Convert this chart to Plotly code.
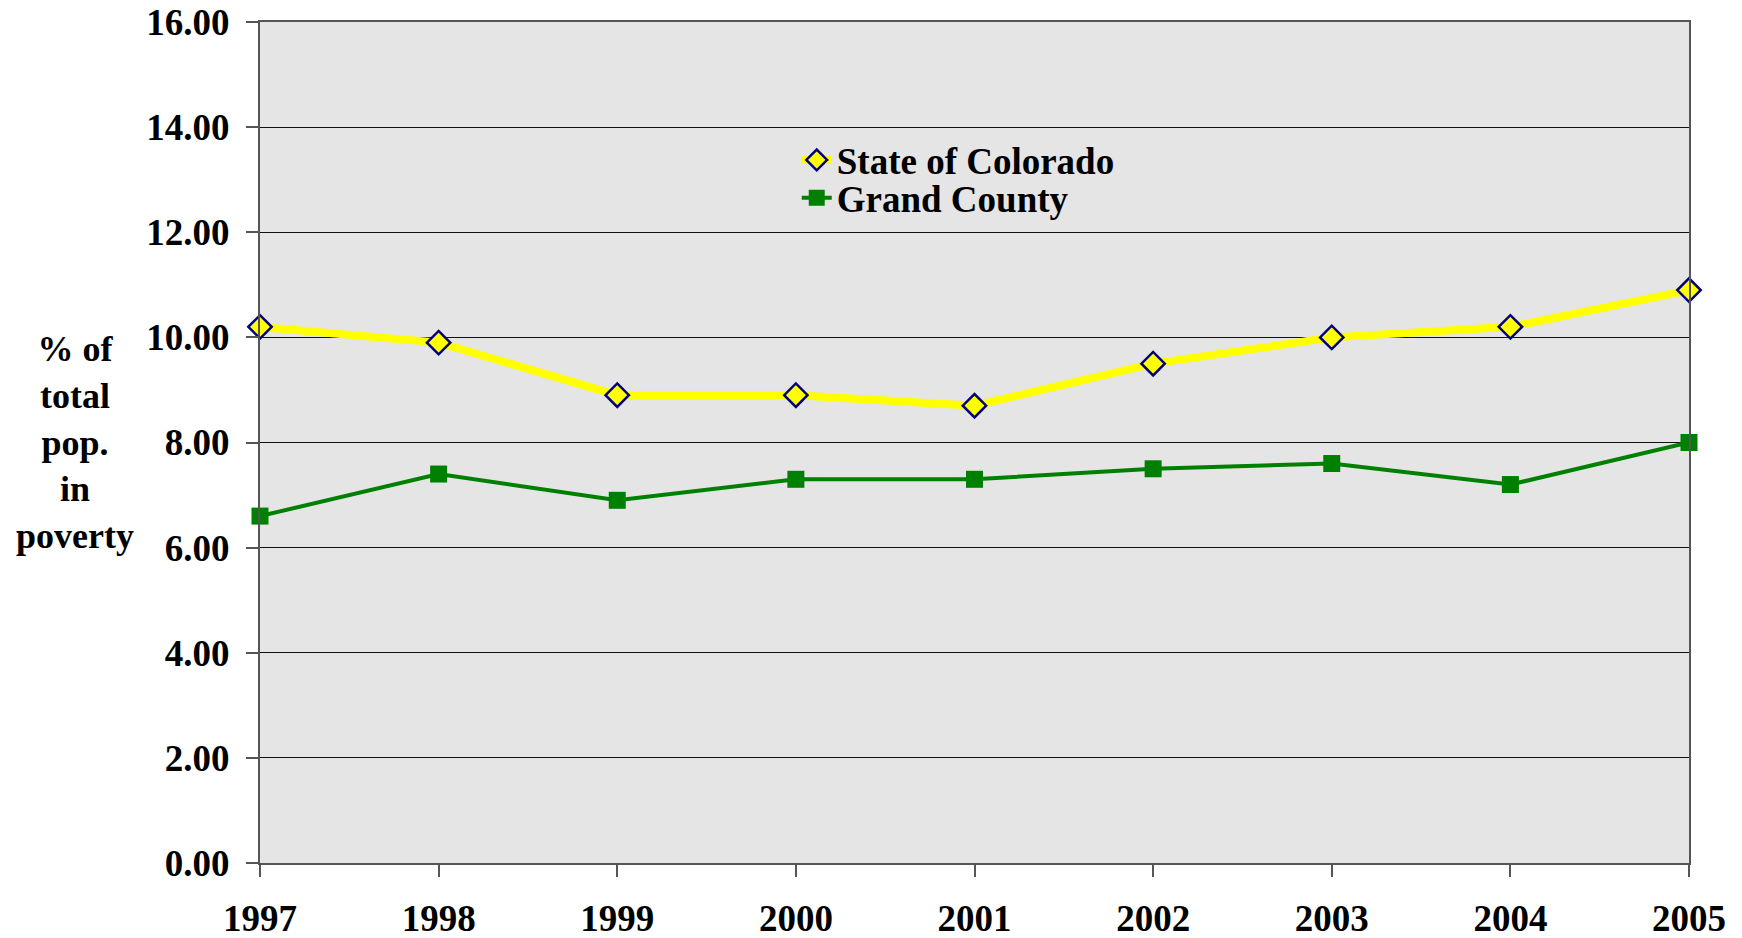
import plotly.graph_objects as go

years = [1997, 1998, 1999, 2000, 2001, 2002, 2003, 2004, 2005]
colorado = [10.2, 9.9, 8.9, 8.9, 8.7, 9.5, 10.0, 10.2, 10.9]
grand = [6.6, 7.4, 6.9, 7.3, 7.3, 7.5, 7.6, 7.2, 8.0]
y_ticks = [0, 2, 4, 6, 8, 10, 12, 14, 16]
y_ticktext = ["%.2f" % v for v in y_ticks]

FONT = "Liberation Serif, Times New Roman, serif"
TICKFONT = dict(family=FONT, size=37, color="black", weight="bold")
LEGFONT = dict(family=FONT, size=37, color="black", weight="bold")

fig = go.Figure()
fig.add_trace(go.Scatter(
    x=years, y=colorado, name="State of Colorado", mode="lines+markers",
    line=dict(color="#FFFF00", width=8),
    marker=dict(symbol="diamond", size=18, color="#FFFF00",
                line=dict(color="#000080", width=2.5)),
    cliponaxis=False, legend="legend",
))
fig.add_trace(go.Scatter(
    x=years, y=grand, name="Grand County", mode="lines+markers",
    line=dict(color="#008000", width=4),
    marker=dict(symbol="square", size=17, color="#008000",
                line=dict(color="#008000", width=0)),
    cliponaxis=False, legend="legend2",
))

fig.update_layout(
    width=1742, height=938,
    margin=dict(l=260, r=53, t=22, b=75, autoexpand=False),
    paper_bgcolor="white",
    plot_bgcolor="#e5e5e5",
    font=dict(family=FONT, size=36, color="black"),
    showlegend=True,
    legend=dict(x=0.3756, y=0.8355, xanchor="left", yanchor="middle",
                bgcolor="rgba(0,0,0,0)", borderwidth=0, font=LEGFONT),
    legend2=dict(x=0.3756, y=0.7905, xanchor="left", yanchor="middle",
                 bgcolor="rgba(0,0,0,0)", borderwidth=0, font=LEGFONT),
    xaxis=dict(range=[1997, 2005], tickvals=years, ticktext=[str(y) for y in years],
               showgrid=False, zeroline=False, automargin=False,
               showline=True, linecolor="#555555", linewidth=2, mirror=True,
               ticks="outside", ticklen=12, tickcolor="#555555", tickwidth=2,
               ticklabelstandoff=10, tickfont=TICKFONT),
    yaxis=dict(range=[0, 16], tickvals=y_ticks, ticktext=y_ticktext,
               showgrid=True, gridcolor="#111111", gridwidth=1, zeroline=False,
               automargin=False,
               showline=True, linecolor="#555555", linewidth=2, mirror=True,
               ticks="outside", ticklen=12, tickcolor="#555555", tickwidth=2,
               ticklabelstandoff=9, tickfont=TICKFONT),
    annotations=[dict(
        text="% of<br>total<br>pop.<br>in<br>poverty",
        xref="paper", yref="paper", x=-0.1295, y=0.5,
        xanchor="center", yanchor="middle", showarrow=False, align="center",
        font=dict(family=FONT, size=36, color="black", weight="bold"),
    )],
)

fig.write_html("out.html", config={"displayModeBar": False},
               post_script="document.body.style.margin='0';document.body.style.padding='0';")
